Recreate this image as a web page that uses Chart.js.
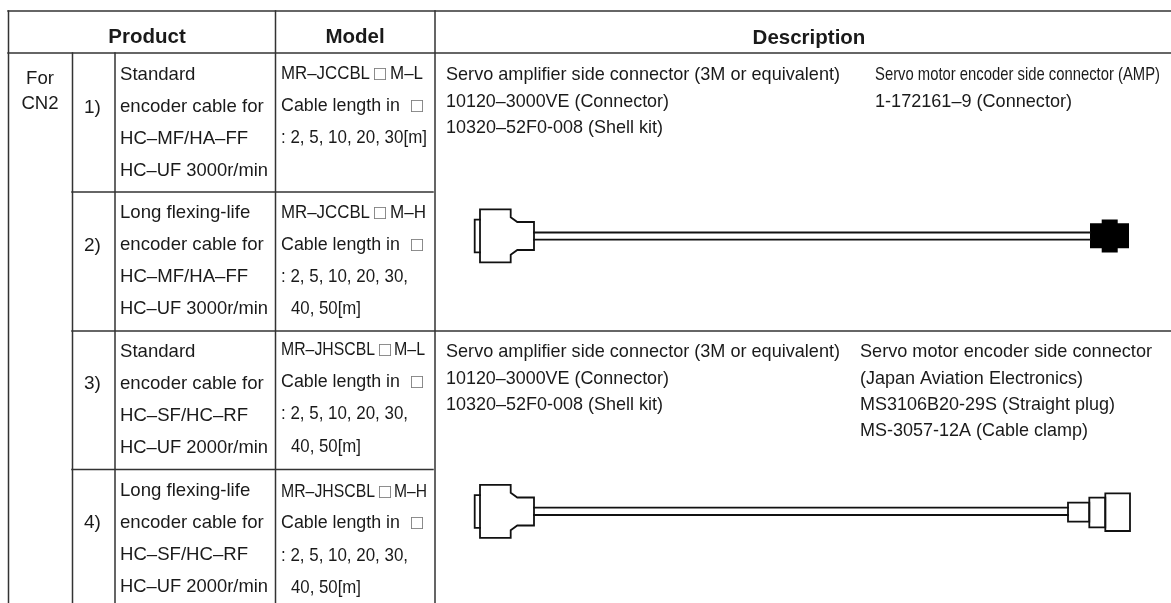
<!DOCTYPE html>
<html><head><meta charset="utf-8">
<style>html,body{margin:0;padding:0;background:#fff}canvas{display:block}</style>
<script src="https://cdn.jsdelivr.net/npm/chart.js@4"></script></head>
<body><canvas id="c" width="1171" height="603"></canvas>
<script>
// ---- table content ----
const headers = ["Product", "Model", "Description"];
const groupLabel = ["For", "CN2"];
const rowNumbers = ["1)", "2)", "3)", "4)"];
const productText = [
  ["Standard", "encoder cable for", "HC–MF/HA–FF", "HC–UF 3000r/min"],
  ["Long flexing-life", "encoder cable for", "HC–MF/HA–FF", "HC–UF 3000r/min"],
  ["Standard", "encoder cable for", "HC–SF/HC–RF", "HC–UF 2000r/min"],
  ["Long flexing-life", "encoder cable for", "HC–SF/HC–RF", "HC–UF 2000r/min"]
];
const modelHead = ["MR–JCCBL", "MR–JCCBL", "MR–JHSCBL", "MR–JHSCBL"];
const modelTail = ["M–L", "M–H", "M–L", "M–H"];
const lengthLabel = "Cable length in";
const placeholder = "□";
const modelLengths = [
  [": 2, 5, 10, 20, 30[m]"],
  [": 2, 5, 10, 20, 30,", "40, 50[m]"],
  [": 2, 5, 10, 20, 30,", "40, 50[m]"],
  [": 2, 5, 10, 20, 30,", "40, 50[m]"]
];
const descLeft = ["Servo amplifier side connector (3M or equivalent)", "10120–3000VE (Connector)", "10320–52F0-008 (Shell kit)"];
const descRightTop = ["Servo motor encoder side connector (AMP)", "1-172161–9 (Connector)"];
const descRightBottom = ["Servo motor encoder side connector", "(Japan Aviation Electronics)", "MS3106B20-29S (Straight plug)", "MS-3057-12A (Cable clamp)"];

// ---- layout (page units) ----
const FONT = '"Liberation Sans", Arial, sans-serif';
const CJK = '"Noto Sans CJK JP", sans-serif';
const productBase = [[80,112,144,176],[218,250,282,314],[357,389,421,453],[496,528,560,592]];
const modelBase = [[79,111,143],[218,250,282,314],[355,387,419,452],[497,528,561,593]];
const numBase = [113,251,389,528];
const headW = [89,89,94,94], boxX = [374,374,379,379], tailX = [390,390,394,394], tailW = [33,36,31,33];
const leftW = [394,223,217];

const H = (y,a,b)=>[{x:a,y},{x:b,y}];
const V = (x,a,b)=>[{x,y:a},{x,y:b}];
const rules = [
  H(11,8,1171), H(53,8,1171), H(192,72,433), H(331,72,1171), H(469.5,72,433),
  V(8.5,11,603), V(72.5,53,603), V(115,53,603), V(275.5,11,603), V(435,11,603)
];
const conn = dy => [[480,209.3],[510.7,209.3],[510.7,217.3],[517.3,222],[534,222],[534,250],[517.3,250],[510.7,254.7],[510.7,262.3],[480,262.3],[480,209.3]]
  .map(p=>({x:p[0],y:p[1]+dy}));
const tab = dy => [[480,219.7],[474.7,219.7],[474.7,252.3],[480,252.3]].map(p=>({x:p[0],y:p[1]+dy}));
const box = (x0,x1,y0,y1)=>[{x:x0,y:y0},{x:x1,y:y0},{x:x1,y:y1},{x:x0,y:y1},{x:x0,y:y0}];
const D2 = 275.5;
const shapes = [
  conn(0), tab(0), H(232.5,534,1090), H(239.7,534,1090),
  conn(D2), tab(D2), H(507.7,534,1068), H(515,534,1068),
  box(1068,1089.3,502.7,521.7), box(1089.3,1105.3,497.7,527.3), box(1105.3,1130,493.3,531)
];
const line = (data,color,w)=>({type:'scatter',showLine:true,data,borderColor:color,borderWidth:w,pointRadius:0,tension:0,borderCapStyle:'square',borderJoinStyle:'miter',clip:false});
const solid = (data,w)=>{const d=line(data,'#000',w);d.borderCapStyle='butt';return d;};
const datasets = [
  ...rules.map(r=>line(r,'#333',1.5)),
  ...shapes.map(s=>line(s,'#111',1.8)),
  solid(H(235.8,1090,1129),25),
  solid(V(1109.7,219.5,252.5),16)
];

const textPlugin = {
  id:'tableText',
  afterDatasetsDraw(chart){
    const ctx=chart.ctx, sx=chart.scales.x, sy=chart.scales.y;
    const t=(s,x,y,font,w,align)=>{
      ctx.font=font; ctx.textAlign=align||'left'; ctx.textBaseline='alphabetic'; ctx.fillStyle='#1a1a1a';
      const px=sx.getPixelForValue(x), py=sy.getPixelForValue(y);
      if(w) ctx.fillText(s,px,py,w); else ctx.fillText(s,px,py);
    };
    ctx.save();
    const F=`18.6px ${FONT}`, M=`18px ${FONT}`, B=`bold 20.5px ${FONT}`, D=`18.6px ${FONT}`;
    t(headers[0],147,43,B,null,'center');
    t(headers[1],355,43,B,null,'center');
    t(headers[2],809,44,B,null,'center');
    t(groupLabel[0],40,84,F,null,'center');
    t(groupLabel[1],40,109,F,null,'center');
    rowNumbers.forEach((n,i)=>t(n,84,numBase[i],`19px ${FONT}`));
    productText.forEach((rows,i)=>rows.forEach((s,j)=>t(s,120,productBase[i][j],F,148)));
    modelHead.forEach((s,i)=>{
      const b=modelBase[i];
      t(s,281,b[0],M,headW[i]);
      t(placeholder,boxX[i]-1,b[0],`14px ${CJK}`);
      t(modelTail[i],tailX[i],b[0],M,tailW[i]);
      t(lengthLabel,281,b[1],M,119);
      t(placeholder,410,b[1],`14px ${CJK}`);
      const L=modelLengths[i];
      t(L[0],281,b[2],M,L.length===1?146:127);
      if(L[1]) t(L[1],291,b[3],M,70);
    });
    descLeft.forEach((s,j)=>t(s,446,[80,107,133][j],D,leftW[j]));
    descLeft.forEach((s,j)=>t(s,446,[357,384,410][j],D,leftW[j]));
    t(descRightTop[0],875,80,D,285);
    t(descRightTop[1],875,107,D,197);
    descRightBottom.forEach((s,j)=>t(s,860,[357,384,410,436][j],D,[292,223,255,228][j]));
    ctx.restore();
  }
};

new Chart(document.getElementById('c'),{
  type:'scatter',
  data:{datasets},
  options:{
    responsive:false, animation:false, events:[],
    layout:{padding:0},
    plugins:{legend:{display:false},tooltip:{enabled:false},title:{display:false}},
    scales:{
      x:{type:'linear',min:0,max:1171,display:false},
      y:{type:'linear',min:0,max:603,reverse:true,display:false}
    }
  },
  plugins:[textPlugin]
});
</script></body></html>
